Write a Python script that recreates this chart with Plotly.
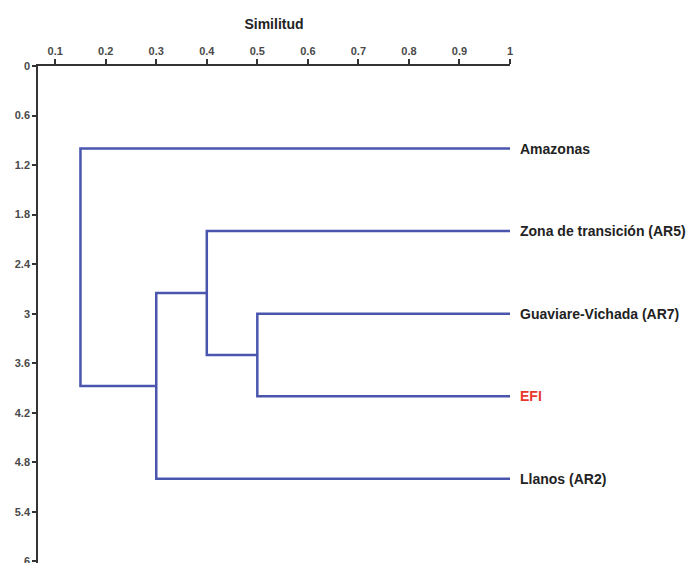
import plotly.graph_objects as go

# ---- data ----
leaves = ["Amazonas", "Zona de transición (AR5)", "Guaviare-Vichada (AR7)", "EFI", "Llanos (AR2)"]
leaf_pos = [1, 2, 3, 4, 5]
leaf_colors = ["#222222", "#222222", "#222222", "#E8382B", "#222222"]
# merges: (child a, child b, similarity, new node name)
merges = [
    ("Guaviare-Vichada (AR7)", "EFI", 0.50, "G1"),
    ("Zona de transición (AR5)", "G1", 0.40, "G2"),
    ("G2", "Llanos (AR2)", 0.30, "G3"),
    ("Amazonas", "G3", 0.15, "G4"),
]
x_ticks = [0.1, 0.2, 0.3, 0.4, 0.5, 0.6, 0.7, 0.8, 0.9, 1]
x_ticklabels = ["0.1", "0.2", "0.3", "0.4", "0.5", "0.6", "0.7", "0.8", "0.9", "1"]
y_ticks = [0, 0.6, 1.2, 1.8, 2.4, 3, 3.6, 4.2, 4.8, 5.4, 6]
y_ticklabels = ["0", "0.6", "1.2", "1.8", "2.4", "3", "3.6", "4.2", "4.8", "5.4", "6"]

# ---- build dendrogram segments ----
nodes = {name: (1.0, p) for name, p in zip(leaves, leaf_pos)}
xs, ys = [], []
for a, b, sim, new in merges:
    ax_, ay_ = nodes[a]
    bx_, by_ = nodes[b]
    xs += [ax_, sim, sim, bx_, None]
    ys += [ay_, ay_, by_, by_, None]
    nodes[new] = (sim, (ay_ + by_) / 2)

fig = go.Figure()
fig.add_trace(go.Scatter(x=xs, y=ys, mode="lines",
                         line=dict(color="#4A55AE", width=2.5),
                         hoverinfo="skip", showlegend=False))

for name, p, c in zip(leaves, leaf_pos, leaf_colors):
    fig.add_annotation(x=1.0, y=p, xref="x", yref="y", text=name,
                       showarrow=False, xanchor="left", yanchor="middle", xshift=8,
                       font=dict(family="Liberation Sans, Arial", size=14, color=c, weight="bold"))

tickfont = dict(family="Liberation Sans, Arial", size=11, color="#4a4a4a", weight="bold")
fig.update_layout(
    width=687, height=563,
    margin=dict(l=38, r=177, t=66, b=0),
    paper_bgcolor="white", plot_bgcolor="white",
    xaxis=dict(range=[0.066, 1.0], side="top", tickvals=x_ticks, ticktext=x_ticklabels,
               ticks="outside", ticklen=5, tickwidth=1.5, tickcolor="#333",
               showline=True, linecolor="#333", linewidth=1.5, showgrid=False, zeroline=False,
               tickfont=tickfont, automargin=False,
               title=dict(text="Similitud", standoff=12,
                          font=dict(family="Liberation Sans, Arial", size=14, color="#222", weight="bold"))),
    yaxis=dict(range=[6.02, 0], tickvals=y_ticks, ticktext=y_ticklabels,
               ticks="outside", ticklen=4, tickwidth=1.5, tickcolor="#333",
               showline=True, linecolor="#333", linewidth=1.5, showgrid=False, zeroline=False,
               tickfont=tickfont, ticklabeloverflow="allow", automargin=False),
)
fig.write_html("out.html")
